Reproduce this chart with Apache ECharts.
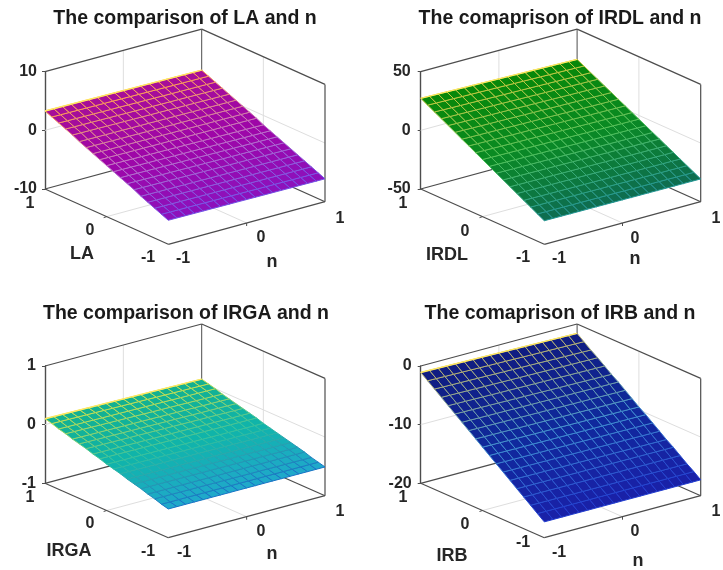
<!DOCTYPE html>
<html><head><meta charset="utf-8">
<style>html,body{margin:0;padding:0;background:#fff}#c{width:723px;height:570px;filter:blur(0.4px)}</style>
<script src="https://cdn.jsdelivr.net/npm/echarts@6/dist/echarts.min.js"></script>
</head><body><div id="c"></div>
<script>
// ---- chart values ----
const titles = ['The comparison of LA and n','The comaprison of IRDL and n','The comparison of IRGA and n','The comaprison of IRB and n'];
const factorNames = ['LA','IRDL','IRGA','IRB'];
const xName = 'n';
const nTicks = [-1,0,1];
const factorTicks = [-1,0,1];
const zLimits = [[-10,10],[-50,50],[-1,1],[-20,0]];
const zIntervals = [10,50,1,10];
// surface height for each factor row (factor = -1 ... 1), at the n = -1 and n = +1 edges
const zLA_nLow  = [-5.9,-5.4,-4.9,-4.4,-3.9,-3.3,-2.8,-2.3,-1.8,-1.3,-0.8,-0.3,0.2,0.7,1.3,1.8,2.3,2.8,3.3];
const zLA_nHigh = [-6.1,-5.6,-5.1,-4.6,-4.1,-3.6,-3.1,-2.6,-2.1,-1.6,-1.0,-0.5,0.0,0.5,1.0,1.5,2.0,2.5,3.0];
const zIRDL_nLow  = [-29.9,-26.7,-23.5,-20.4,-17.2,-14.0,-10.8,-7.7,-4.5,-1.3,1.9,5.1,8.2,11.4,14.6,17.8,20.9,24.1,27.3];
const zIRDL_nHigh = [-30.6,-27.6,-24.5,-21.5,-18.4,-15.4,-12.3,-9.3,-6.2,-3.2,-0.2,2.9,5.9,9.0,12.0,15.1,18.1,21.2,24.2];
const zIRGA_nLow  = [-0.51,-0.48,-0.44,-0.41,-0.37,-0.34,-0.31,-0.27,-0.24,-0.21,-0.17,-0.14,-0.10,-0.07,-0.04,0.00,0.03,0.07,0.10];
const zIRGA_nHigh = [-0.51,-0.48,-0.45,-0.41,-0.38,-0.35,-0.32,-0.29,-0.26,-0.23,-0.19,-0.16,-0.13,-0.10,-0.07,-0.04,0.00,0.03,0.06];
const zIRB_nLow  = [-17.3,-16.4,-15.5,-14.6,-13.7,-12.8,-11.9,-11.0,-10.1,-9.2,-8.3,-7.4,-6.5,-5.6,-4.7,-3.8,-2.9,-2.0,-1.1];
const zIRB_nHigh = [-17.3,-16.4,-15.6,-14.7,-13.8,-13.0,-12.1,-11.2,-10.3,-9.5,-8.6,-7.7,-6.8,-6.0,-5.1,-4.2,-3.4,-2.5,-1.6];
const surfaces = [[zLA_nLow,zLA_nHigh],[zIRDL_nLow,zIRDL_nHigh],[zIRGA_nLow,zIRGA_nHigh],[zIRB_nLow,zIRB_nHigh]];
const meshCols = 18;

// ---- layout and style ----
const layouts = [
 {left:45,   top:71.7, h:117.3, fx:168.3, fy:244.3, nv:[156.7,-42.6], lv:[-123.3,-55.3], margin:8,  title:[185,19],
  nPos:[[183,259],[261,238],[340,219]], fPos:[[148,258],[90,231],[30,204]], fName:[82,254], xName:[272,262]},
 {left:420.7,top:71.7, h:117.3, fx:544.3, fy:244.3, nv:[156.4,-42.6], lv:[-123.6,-55.3], margin:10, title:[560,19],
  nPos:[[559,259],[635,239],[716,219]], fPos:[[523,258],[465,232],[403,204]], fName:[447,255], xName:[635,259]},
 {left:45,   top:366,  h:117.3, fx:168.3, fy:537.7, nv:[156.7,-42],   lv:[-123.3,-54.4], margin:9,  title:[186,314],
  nPos:[[184,553],[261,532],[340,512]], fPos:[[148,552],[90,524],[30,498]], fName:[69,551], xName:[272,554]},
 {left:420.7,top:366,  h:117.3, fx:544.3, fy:537.7, nv:[156.4,-42],   lv:[-123.6,-54.4], margin:9,  title:[560,314],
  nPos:[[559,553],[635,532],[716,512]], fPos:[[523,543],[465,525],[403,498]], fName:[452,556], xName:[638,561]}
];
const faceStops = [
 ['#8c12bc','#9e06a8','#a60e98'],
 ['#0e6c52','#0a8a24','#088808'],
 ['#20a8cc','#10b4aa','#14b090'],
 ['#1a20a8','#0f2a9c','#101c80']
];
const edgeStops = [
 ['#7050e8','#c070c8','#ffa050'],
 ['#209498','#50c058','#c8c840'],
 ['#1870c8','#30c0a0','#c8e050'],
 ['#2038d0','#3f8fd0','#b8b070']
];
const topEdge = '#ffe860';
const FONT = '"Liberation Sans", Arial, sans-serif';
const INK = '#262626', BOX = '#4d4d4d', GRIDC = '#dedede';

function hex(c){return [1,3,5].map(i=>parseInt(c.substr(i,2),16));}
function mix(stops,t){
  t=Math.max(0,Math.min(1,t));
  const s=t*(stops.length-1), i=Math.min(stops.length-2,Math.floor(s)), f=s-i;
  const a=hex(stops[i]), b=hex(stops[i+1]);
  return 'rgb('+a.map((v,k)=>Math.round(v+(b[k]-v)*f)).join(',')+')';
}
function project(L,api,n,f,z){
  const u=(n+1)/2, v=(f+1)/2;
  const hx=L.fx-L.left+u*L.nv[0]+v*L.lv[0];
  const p=api.coord([hx,z]);
  return [p[0], p[1]+(L.fy-(L.top+L.h))+u*L.nv[1]+v*L.lv[1]];
}
function ln(a,b,color,w){
  return {type:'line',shape:{x1:a[0],y1:a[1],x2:b[0],y2:b[1]},style:{stroke:color,lineWidth:w,fill:null},silent:true};
}
function zTicksOf(i){
  const out=[]; for(let z=zLimits[i][0]; z<=zLimits[i][1]+1e-9; z+=zIntervals[i]) out.push(z);
  return out;
}
function boxSegments(i){
  const [a,b]=zLimits[i], segs=[];
  zTicksOf(i).forEach(z=>{ if(z>a&&z<b){ segs.push([[-1,1,z],[1,1,z],GRIDC,1]); segs.push([[1,1,z],[1,-1,z],GRIDC,1]); }});
  segs.push([[0,1,a],[0,1,b],GRIDC,1]); segs.push([[1,0,a],[1,0,b],GRIDC,1]);
  segs.push([[0,-1,a],[0,1,a],GRIDC,1]); segs.push([[-1,0,a],[1,0,a],GRIDC,1]);
  segs.push([[-1,1,b],[1,1,b],BOX,1.2]); segs.push([[1,1,b],[1,-1,b],BOX,1.2]);
  segs.push([[1,-1,a],[1,-1,b],BOX,1.2]); segs.push([[1,1,a],[1,1,b],BOX,1]);
  segs.push([[-1,1,a],[-1,-1,a],BOX,1.2]); segs.push([[-1,-1,a],[1,-1,a],BOX,1.2]);
  segs.push([[-1,1,a],[1,1,a],BOX,1.2]); segs.push([[1,1,a],[1,-1,a],BOX,1.2]);
  return segs;
}
const grids=[],xAxes=[],yAxes=[],series=[],titleOpts=[];
layouts.forEach((L,i)=>{
  const w=280;
  grids.push({left:L.left,top:L.top,width:w,height:L.h});
  xAxes.push({type:'value',gridIndex:i,min:0,max:w,show:false});
  yAxes.push({type:'value',gridIndex:i,min:zLimits[i][0],max:zLimits[i][1],interval:zIntervals[i],
    axisLine:{show:true,onZero:false,lineStyle:{color:BOX,width:1.4}},
    axisTick:{show:true,length:3,lineStyle:{color:BOX}},
    splitLine:{show:false},
    axisLabel:{margin:L.margin,color:INK,fontFamily:FONT,fontWeight:'bold',fontSize:16}});
  titleOpts.push({text:titles[i],left:L.title[0],top:L.title[1]-10,textAlign:'center',padding:0,
    textStyle:{fontFamily:FONT,fontWeight:'bold',fontSize:19.5,color:'#1a1a1a'}});
  const segs=boxSegments(i);
  series.push({type:'custom',xAxisIndex:i,yAxisIndex:i,clip:false,silent:true,z:2,
    data:segs.map((s,k)=>[k,0]),encode:{x:0,y:1},
    renderItem:(p,api)=>{const s=segs[p.dataIndex];
      return ln(project(L,api,s[0][0],s[0][1],s[0][2]),project(L,api,s[1][0],s[1][1],s[1][2]),s[2],s[3]);}});
  const a=zLimits[i][0];
  series.push({type:'custom',xAxisIndex:i,yAxisIndex:i,clip:false,silent:true,z:2,
    data:[0,1].map(k=>[k,0]),encode:{x:0,y:1},
    renderItem:(p,api)=>{
      if(p.dataIndex===0){const q=project(L,api,0,-1,a);return ln(q,[q[0],q[1]+3],BOX,1);}
      const q=project(L,api,-1,0,a);return ln(q,[q[0]-3,q[1]+1],BOX,1);}});
  const zs=surfaces[i], lo=zs[0], hi=zs[1], cells=[];
  const rows=lo.length-1;
  for(let r=0;r<rows;r++) for(let c=0;c<meshCols;c++) cells.push([r,c]);
  const zAt=(r,c)=>lo[r]+(hi[r]-lo[r])*c/meshCols;
  const pt=(api,rr,cc)=>project(L,api,-1+2*cc/meshCols,-1+2*rr/rows,zAt(rr,cc));
  series.push({type:'custom',xAxisIndex:i,yAxisIndex:i,clip:false,silent:true,z:3,
    data:cells,encode:{x:0,y:1},
    renderItem:(p,api)=>{
      const [r,c]=cells[p.dataIndex];
      const t=(r+0.5)/rows;
      return {type:'polygon',shape:{points:[pt(api,r,c),pt(api,r,c+1),pt(api,r+1,c+1),pt(api,r+1,c)]},
        style:{fill:mix(faceStops[i],t),stroke:mix(edgeStops[i],t),lineWidth:1},silent:true};
    }});
  series.push({type:'custom',xAxisIndex:i,yAxisIndex:i,clip:false,silent:true,z:3,
    data:[[0,0]],encode:{x:0,y:1},
    renderItem:(p,api)=>ln(pt(api,rows,0),pt(api,rows,meshCols),topEdge,1.4)});
  const texts=[];
  nTicks.forEach((v,k)=>texts.push([String(v),L.nPos[k],16]));
  factorTicks.forEach((v,k)=>texts.push([String(v),L.fPos[k],16]));
  texts.push([factorNames[i],L.fName,18]);
  texts.push([xName,L.xName,18]);
  series.push({type:'custom',xAxisIndex:i,yAxisIndex:i,clip:false,silent:true,z:4,
    data:texts.map((t,k)=>[k,0]),encode:{x:0,y:1},
    renderItem:(p)=>{const t=texts[p.dataIndex];
      return {type:'text',style:{text:t[0],x:t[1][0],y:t[1][1],align:'center',verticalAlign:'middle',
        fontFamily:FONT,fontWeight:'bold',fontSize:t[2],fill:INK},silent:true};}});
});
const chart=echarts.init(document.getElementById('c'),null,{renderer:'canvas'});
chart.setOption({animation:false,backgroundColor:'#fff',title:titleOpts,grid:grids,xAxis:xAxes,yAxis:yAxes,series:series});
</script></body></html>
